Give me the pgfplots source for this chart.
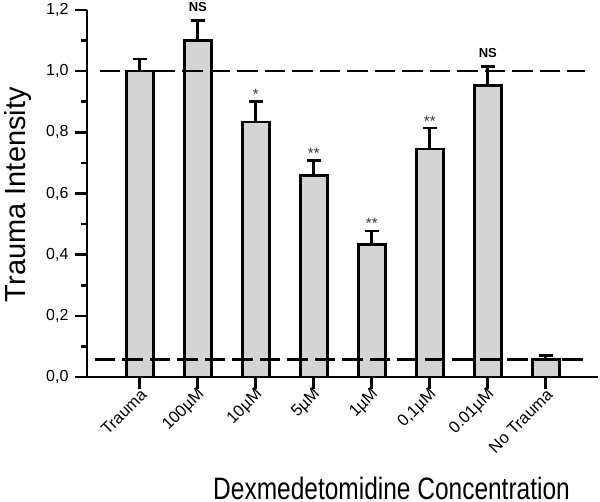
\documentclass[border=0pt]{standalone}
\usepackage{fontspec}
\setmainfont{Liberation Sans}
\usepackage{graphicx}
\usepackage{pgfplots}
\pgfplotsset{compat=1.18}
\definecolor{barfill}{RGB}{212,212,212}
\begin{document}
\begin{tikzpicture}
\path[use as bounding box] (-87pt,-124pt) rectangle (513pt,377pt);
\begin{axis}[
  scale only axis, width=511pt, height=367pt,
  xmin=-0.91, xmax=7.9, ymin=0, ymax=1.2,
  axis x line*=bottom, axis y line*=left,
  axis line style={line width=2.6pt, -},
  ytick={0,0.2,0.4,0.6,0.8,1.0,1.2}, minor y tick num=1,
  xtick={0,1,2,3,4,5,6,7},
  xticklabels={Trauma,100µM,10µM,5µM,1µM,{0,1µM},0.01µM,No Trauma},
  tick align=outside, major tick length=12pt, minor tick length=6pt,
  every tick/.style={line width=2.6pt, black},
  /pgf/number format/assume math mode=true,
  yticklabel style={/pgf/number format/use comma, /pgf/number format/fixed, /pgf/number format/fixed zerofill, /pgf/number format/precision=1, font=\fontsize{16}{16}\selectfont, xshift=-3pt},
  xticklabel style={rotate=45, anchor=east, font=\fontsize{16.5}{16.5}\selectfont, xshift=4pt, yshift=-5pt},
  xlabel={\scalebox{0.79}[1]{Dexmedetomidine Concentration}},
  xlabel style={at={(axis description cs:0.596,-0.335)}, anchor=base, font=\fontsize{31}{31}\selectfont},
  ylabel={Trauma Intensity},
  ylabel style={at={(axis description cs:-0.1213,0.497)}, anchor=base, font=\fontsize{29}{29}\selectfont},
  clip=false,
]
\addplot[ybar, bar width=27pt, fill=barfill, draw=black, line width=2.6pt,
  error bars/.cd, y dir=plus, y explicit,
  error bar style={line width=2.6pt, black},
  error mark options={rotate=90, line width=2.6pt, black, mark size=7pt}]
  table[x=x, y=y, y error=e]{
x y e
0 1.000 0.040
1 1.100 0.065
2 0.834 0.066
3 0.659 0.049
4 0.434 0.044
5 0.746 0.068
6 0.953 0.062
7 0.058 0.013
};
\addplot[line width=2.6pt, dash pattern=on 20.5pt off 7pt] coordinates {(-0.69,1) (7.67,1)};
\addplot[line width=2.6pt, dash pattern=on 20.5pt off 7pt] coordinates {(-0.776,0.058) (7.69,0.058)};
\addplot[draw=none, mark=none, nodes near coords, point meta=explicit symbolic,
  nodes near coords style={font=\bfseries\fontsize{13}{13}\selectfont, anchor=base, yshift=9pt}]
  coordinates {(1,1.165)[NS] (6,1.015)[NS]};
\addplot[draw=none, mark=none, nodes near coords, point meta=explicit symbolic,
  nodes near coords style={font=\fontsize{15}{15}\selectfont, text=black!80, anchor=base, yshift=2pt}]
  coordinates {(2,0.900)[*] (3,0.708)[**] (4,0.478)[**] (5,0.814)[**]};
\end{axis}
\end{tikzpicture}
\end{document}
